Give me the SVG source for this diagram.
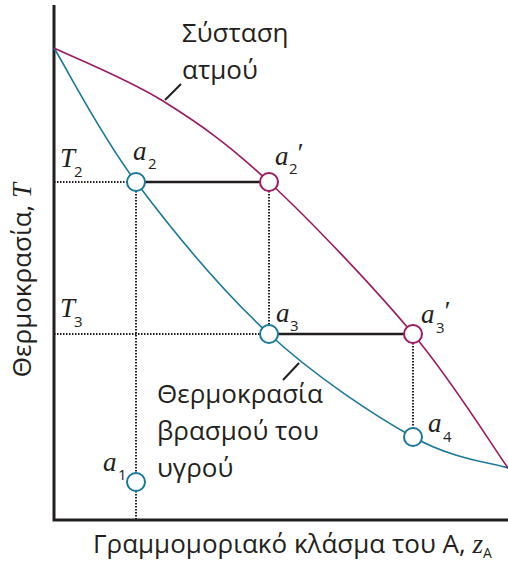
<svg xmlns="http://www.w3.org/2000/svg" width="508" height="565" viewBox="0 0 508 565">
<style>
.lab{font-family:"Open Sans","Liberation Sans",sans-serif;font-size:26px;fill:#231f20}
.var{font-family:"Liberation Serif",serif;font-style:italic;font-size:27px;fill:#231f20}
.sub{font-family:"Open Sans","Liberation Sans",sans-serif;font-size:15px;fill:#231f20}
.dot{stroke:#231f20;stroke-width:2;stroke-dasharray:1.5 1.5;fill:none}
.tie{stroke:#231f20;stroke-width:2.5;fill:none}
.liq{stroke:#1b7899;stroke-width:1.6;fill:none}
.vap{stroke:#9b1b5e;stroke-width:1.6;fill:none}
.cl{fill:#fff;stroke:#1b7899;stroke-width:2}
.cv{fill:#fff;stroke:#9b1b5e;stroke-width:2}
</style>
<g id="axes">
<path d="M54,5 V520 H508" stroke="#231f20" stroke-width="3" fill="none"/>
</g>
<g id="connectors">
<path class="dot" d="M54,182 H127 M54,334 H260 M136,191 V473 M136,491 V520 M269,191 V325 M413,343 V428"/>
<path class="tie" d="M145,182 H260 M278,334 H404"/>
<path class="liq" d="M54,48 C67.7,70.3 100.2,134.3 136,182 C171.8,229.7 222.8,291.5 269,334 C315.2,376.5 373.2,414.7 413,437 C452.8,459.3 492.2,462.8 508,468"/>
<path class="vap" d="M54,48 C72.2,56.8 127.2,78.7 163,101 C198.8,123.3 227.3,143.2 269,182 C310.7,220.8 373.2,286.3 413,334 C452.8,381.7 492.2,445.7 508,468"/>
<path d="M165,100 L181,84 M283,380 L299,363" stroke="#231f20" stroke-width="2" fill="none"/>
</g>
<g id="a2"><circle class="cl" cx="136" cy="182" r="9"/><text class="var" x="133" y="160">a</text><text class="sub" x="148" y="169">2</text></g>
<g id="a2p"><circle class="cv" cx="269" cy="182" r="9"/><text class="var" x="275" y="165">a</text><text class="sub" x="289" y="174">2</text><text class="var" x="296" y="162">′</text></g>
<g id="a3"><circle class="cl" cx="269" cy="334" r="9"/><text class="var" x="276" y="322">a</text><text class="sub" x="290" y="331">3</text></g>
<g id="a3p"><circle class="cv" cx="413" cy="334" r="9"/><text class="var" x="421" y="323">a</text><text class="sub" x="436" y="333">3</text><text class="var" x="443" y="320">′</text></g>
<g id="a4"><circle class="cl" cx="413" cy="437" r="9"/><text class="var" x="428" y="432">a</text><text class="sub" x="443" y="442">4</text></g>
<g id="a1"><circle class="cl" cx="136" cy="482" r="9"/><text class="var" x="103" y="471">a</text><text class="sub" x="118" y="480">1</text></g>
<g id="T2"><text class="var" x="60" y="167">T</text><text class="sub" x="74" y="177">2</text></g>
<g id="T3"><text class="var" x="60" y="317">T</text><text class="sub" x="74" y="327">3</text></g>
<g id="vapour-label"><text class="lab" x="182" y="42">Σύσταση</text><text class="lab" x="182" y="79">ατμού</text></g>
<g id="liquid-label"><text class="lab" x="157" y="403">Θερμοκρασία</text><text class="lab" x="157" y="440">βρασμού του</text><text class="lab" x="157" y="477">υγρού</text></g>
<g id="x-label"><text class="lab" x="93" y="553" font-size="23">Γραμμομοριακό κλάσμα του A, <tspan class="var" font-size="24">z</tspan><tspan font-size="14" dy="5">A</tspan></text></g>
<g id="y-label"><text class="lab" transform="translate(31,280) rotate(-90)" text-anchor="middle" font-size="26">Θερμοκρασία, <tspan class="var" font-size="26">T</tspan></text></g>
</svg>
